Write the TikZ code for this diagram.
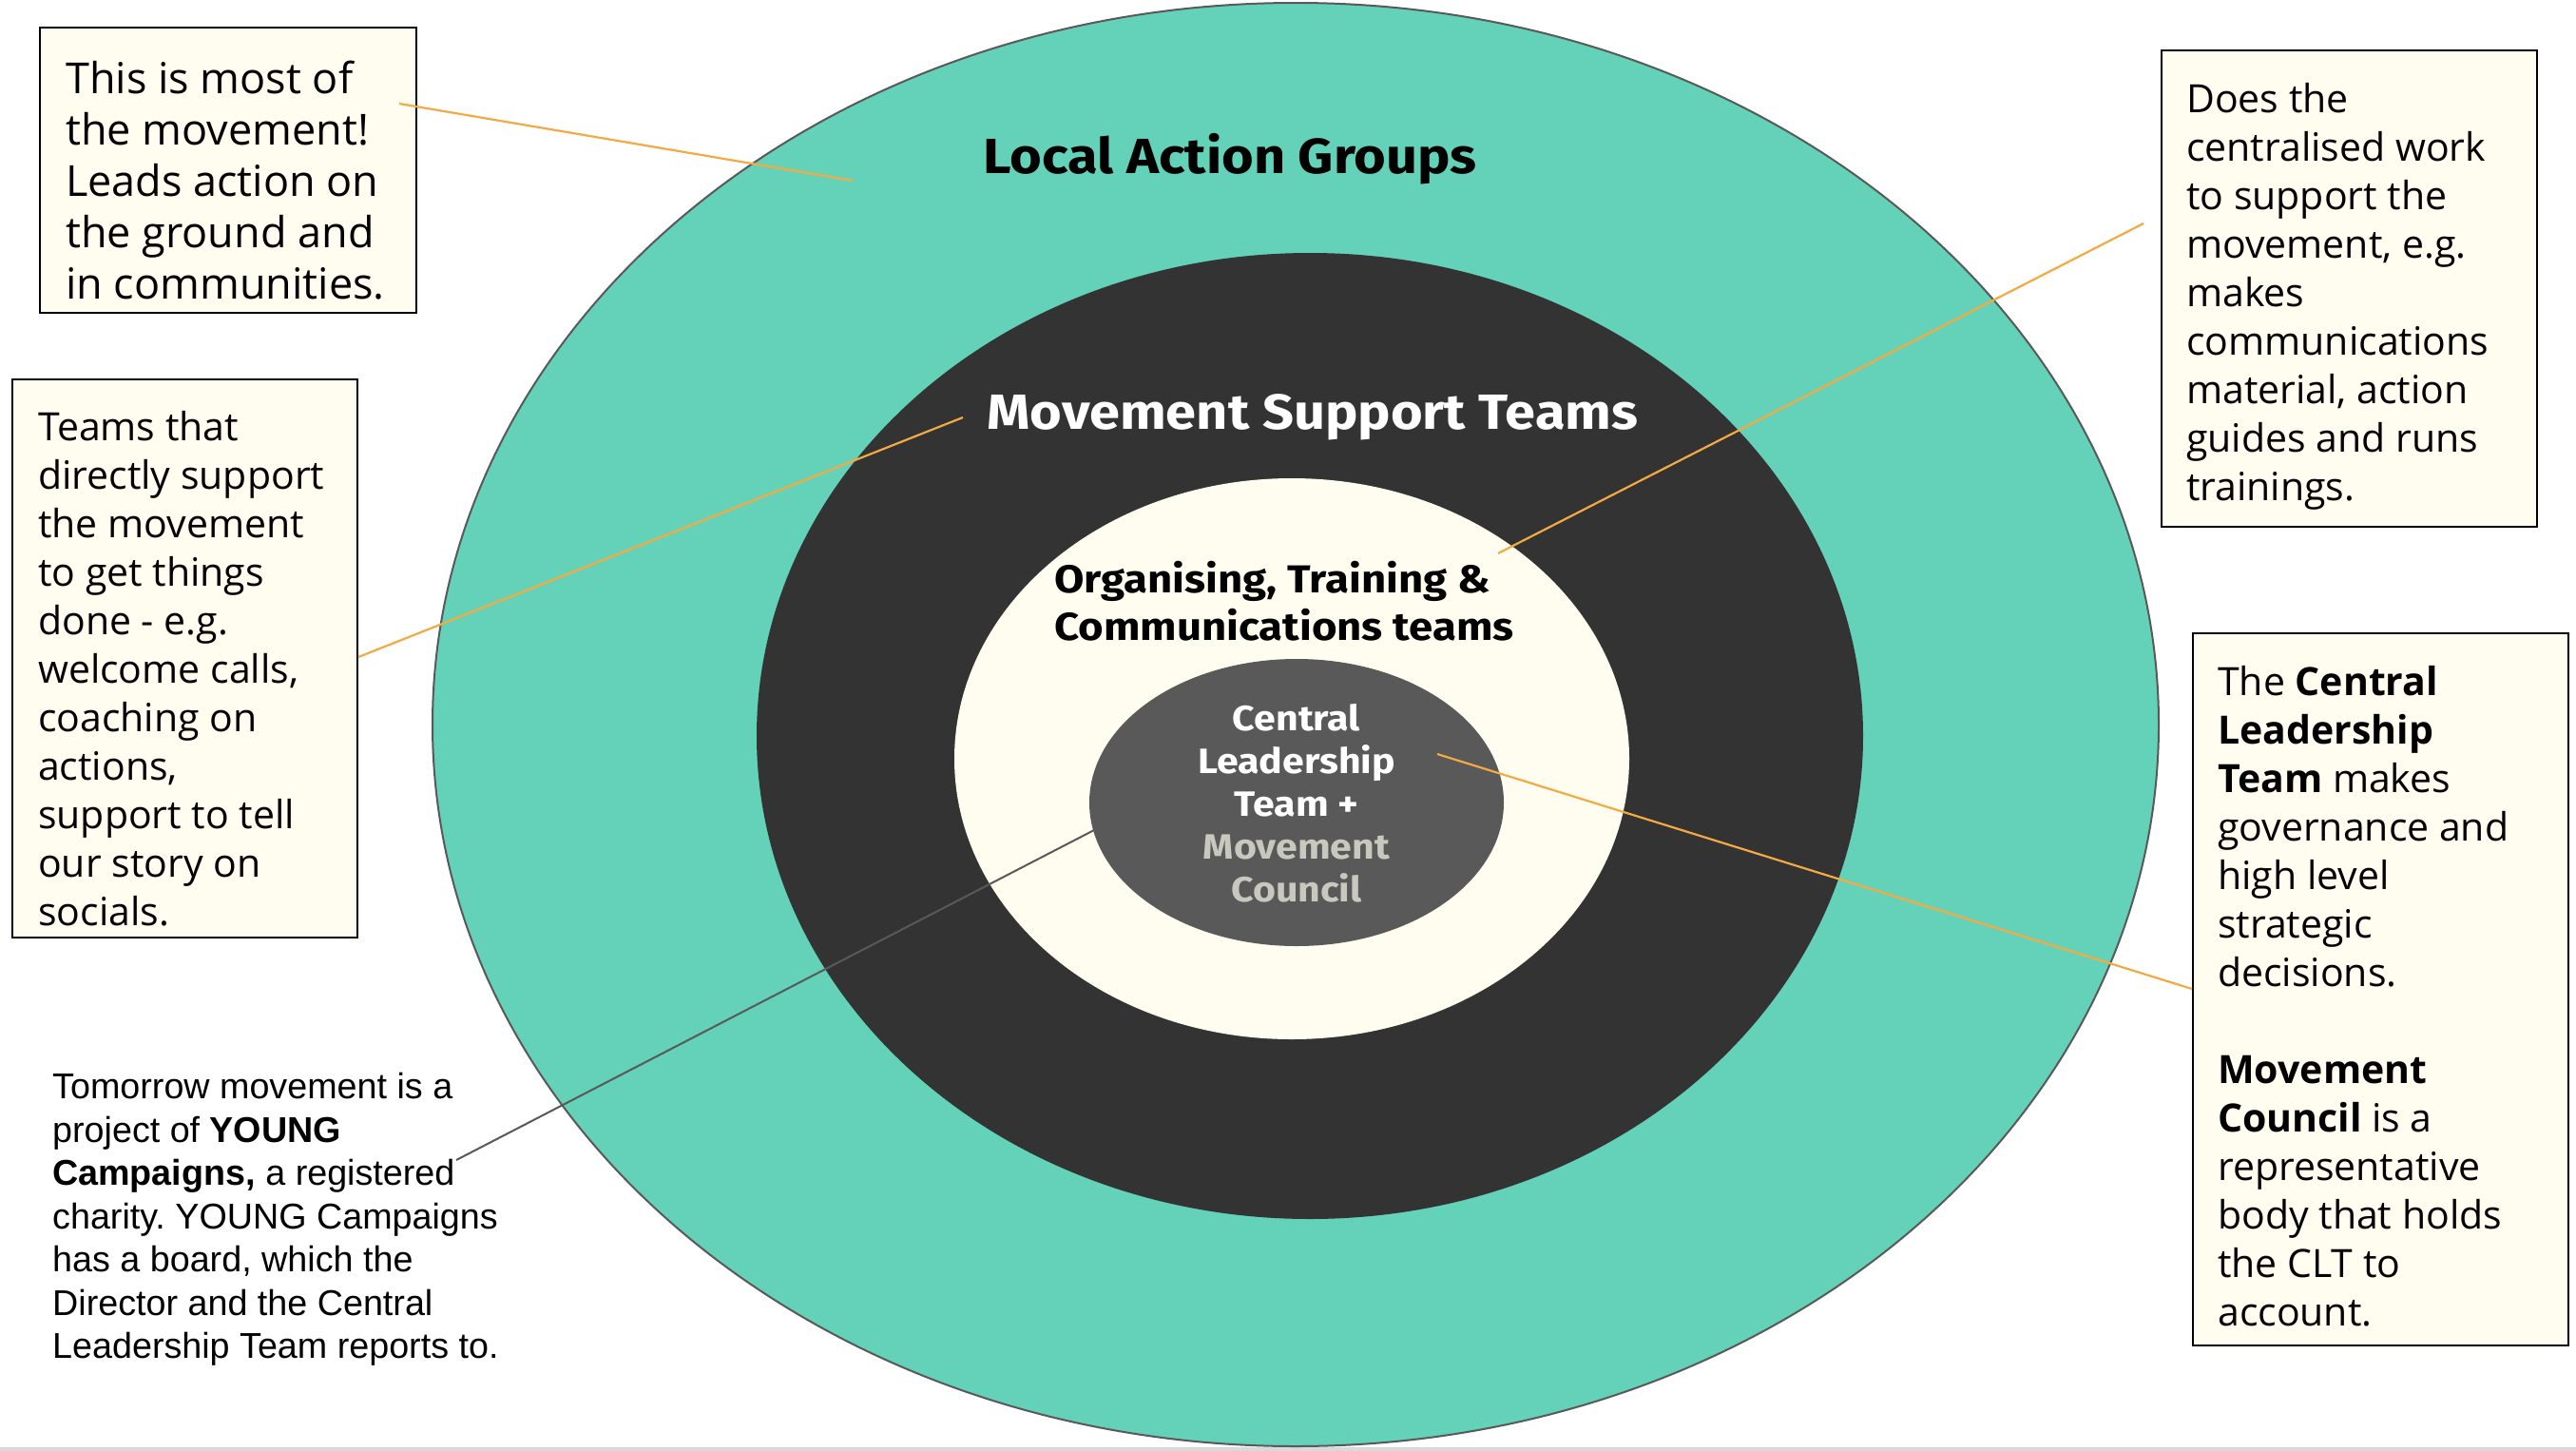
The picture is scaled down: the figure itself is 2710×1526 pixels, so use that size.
\documentclass[tikz,border=0pt]{standalone}
\usepackage{fontspec}
\setmainfont{Liberation Sans}
\newfontfamily\osans{Open Sans}
\newfontfamily\fira[FakeStretch=1.11]{Fira Sans}
\usetikzlibrary{shapes.geometric}
\definecolor{teal1}{RGB}{99,210,185}
\definecolor{dark1}{RGB}{51,51,51}
\definecolor{cream}{RGB}{255,253,240}
\definecolor{gray1}{RGB}{89,89,89}
\definecolor{mcgray}{RGB}{200,200,190}
\definecolor{orange1}{RGB}{244,170,66}
\definecolor{strip}{RGB}{217,217,217}
\frenchspacing
\begin{document}
\begin{tikzpicture}[x=1pt,y=-1pt,
  ring/.style={ellipse, inner sep=0pt, outer sep=0pt},
  note/.style={draw=black, line width=2pt, fill=cream, inner sep=0pt, anchor=north west},
  notetext/.style={font=\osans\fontsize{41}{51}\selectfont, align=left, inner sep=0pt, anchor=north west},
  lead/.style={draw=orange1, line width=2.2pt},
  title/.style={font=\fira\bfseries\fontsize{52}{62}\selectfont, inner sep=0pt}
]
\useasboundingbox (0,0) rectangle (2710,1526);
\fill[white] (0,0) rectangle (2710,1526);
\fill[strip] (0,1522) rectangle (2710,1526);

% rings
\node[ring, fill=teal1, draw=gray1, line width=2pt, minimum width=1816pt, minimum height=1518pt] (outer) at (1363,762) {};
\node[ring, fill=dark1, minimum width=1164pt, minimum height=1016pt] (support) at (1378,774) {};
\node[ring, fill=cream, minimum width=710pt, minimum height=590pt] (otc) at (1359,798) {};
\node[ring, fill=gray1, minimum width=436pt, minimum height=302pt] (clt) at (1364,844) {};

% ring labels
\node[title] (tlag) at (1294,167) {Local Action Groups};
\node[title, text=white] (tmst) at (1381,439) {Movement Support Teams};
\node[font=\fira\bfseries\fontsize{41}{50}\selectfont, align=left, inner sep=0pt] (totc) at (1351,632)
  {Organising, Training \&\\Communications teams};
\node[font=\fira\bfseries\fontsize{37}{45}\selectfont, align=center, inner sep=0pt, text=white] (tclt) at (1364,845)
  {Central\\Leadership\\Team +\\{\color{mcgray}Movement}\\{\color{mcgray}Council}};

% note boxes
\node[note, minimum width=396pt, minimum height=300pt] (b1) at (41,28) {};
\node[notetext, font=\osans\fontsize{45}{54}\selectfont] (t1) at (69,64)
  {This is most of\\the movement!\\Leads action on\\the ground and\\in communities.};

\node[note, minimum width=363pt, minimum height=587pt] (b2) at (12,398) {};
\node[notetext] (t2) at (40,432)
  {Teams that\\directly support\\the movement\\to get things\\done - e.g.\\welcome calls,\\coaching on\\actions,\\support to tell\\our story on\\socials.};

\node[note, minimum width=395pt, minimum height=501pt] (b3) at (2273,52) {};
\node[notetext] (t3) at (2300,87)
  {Does the\\centralised work\\to support the\\movement, e.g.\\makes\\communications\\material, action\\guides and runs\\trainings.};

\node[note, minimum width=395pt, minimum height=749pt] (b4) at (2306,665) {};
\node[notetext] (t4) at (2333,700)
  {The \textbf{Central}\\\textbf{Leadership}\\\textbf{Team} makes\\governance and\\high level\\strategic\\decisions.\\[51pt]\textbf{Movement}\\\textbf{Council} is a\\representative\\body that holds\\the CLT to\\account.};

\node[font=\fontsize{37.7}{45.5}\selectfont, align=left, inner sep=0pt, anchor=north west] (t5) at (55,1128)
  {Tomorrow movement is a\\project of \textbf{YOUNG}\\\textbf{Campaigns,} a registered\\charity. YOUNG Campaigns\\has a board, which the\\Director and the Central\\Leadership Team reports to.};

% connector ends
\coordinate (l1a) at (420,109);
\coordinate (l1b) at (897,190);
\coordinate (l2a) at (377,691);
\coordinate (l2b) at (1013,439);
\coordinate (l3a) at (1576,582);
\coordinate (l3b) at (2255,235);
\coordinate (l4a) at (1512,793);
\coordinate (l4b) at (2306,1040);
\coordinate (l5a) at (480,1220);
\coordinate (l5b) at (1151,873);

\draw[lead] (l1a) -- (l1b);
\draw[lead] (l2a) -- (l2b);
\draw[lead] (l3a) -- (l3b);
\draw[lead] (l4a) -- (l4b);
\draw[draw=gray1, line width=2pt] (l5a) -- (l5b);
\end{tikzpicture}
\end{document}
